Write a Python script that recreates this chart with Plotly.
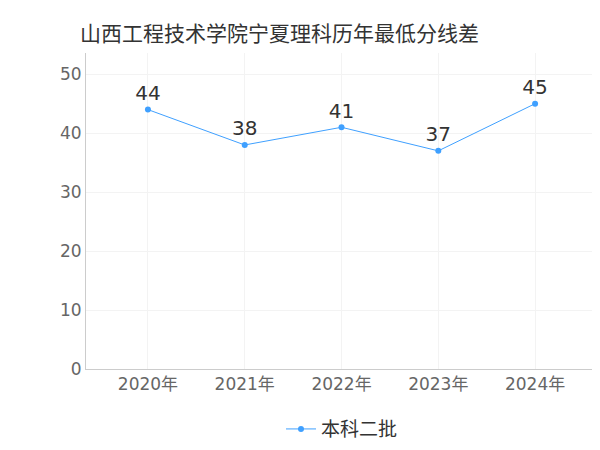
import plotly.graph_objects as go

years = ["2020年", "2021年", "2022年", "2023年", "2024年"]
scores = [44, 38, 41, 37, 45]
series_name = "本科二批"
title = "山西工程技术学院宁夏理科历年最低分线差"

fig = go.Figure()
fig.add_trace(go.Scatter(
    x=years, y=scores, mode="lines+markers+text", name=series_name,
    text=[str(v) for v in scores], textposition="top center",
    textfont=dict(size=20, color="#333"),
    line=dict(color="#3fa0ff", width=1), marker=dict(size=6, color="#3fa0ff"),
))
fig.update_layout(
    width=600, height=450,
    font=dict(family="DejaVu Sans, Noto Sans CJK SC", color="#666"),
    title=dict(text=title, x=0.12, y=0.96, xanchor="left", font=dict(size=21, color="#333")),
    plot_bgcolor="white", paper_bgcolor="white",
    margin=dict(l=78, r=10, t=45, b=80),
    showlegend=True,
    legend=dict(orientation="h", x=0.5, xanchor="center", y=-0.13, yanchor="top",
                font=dict(size=19, color="#333")),
)
fig.update_xaxes(range=[-0.64, 4.65], showline=True, linecolor="#ccc", showgrid=True,
                 gridcolor="#f3f3f3", tickfont=dict(size=17), ticks="")
fig.update_yaxes(range=[0, 53.6], dtick=10, showline=True, linecolor="#ccc",
                 showgrid=True, gridcolor="#f3f3f3", zeroline=False, tickfont=dict(size=17))
fig.write_html("out.html")
